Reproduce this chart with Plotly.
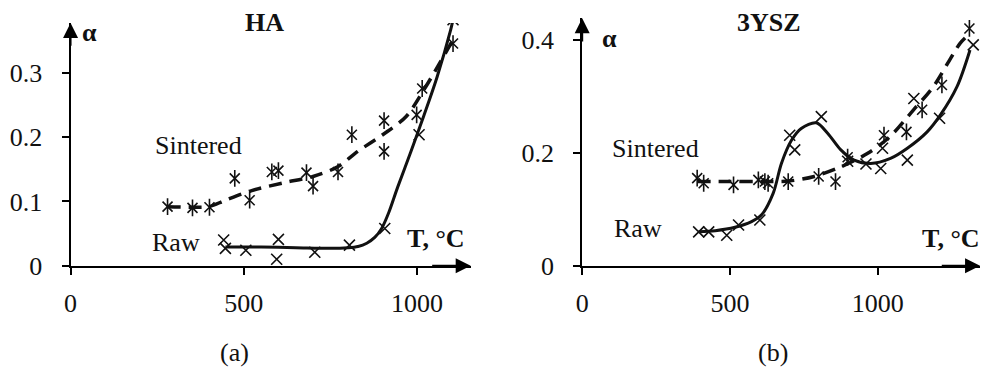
import plotly.graph_objects as go

# ---------------- data ----------------
# Panel (a) HA
ha_raw_T = [442, 447, 506, 595, 600, 705, 805, 907, 1006, 1104]
ha_raw_a = [0.040, 0.027, 0.024, 0.010, 0.041, 0.021, 0.032, 0.058, 0.204, 0.383]
ha_sint_T = [280, 352, 401, 474, 517, 581, 600, 681, 700, 772, 812, 905, 905, 999, 1015, 1104]
ha_sint_a = [0.092, 0.090, 0.091, 0.136, 0.102, 0.146, 0.148, 0.145, 0.124, 0.146, 0.204, 0.226, 0.178, 0.235, 0.276, 0.346]
ha_raw_fit_T = [447, 550, 650, 750, 800, 830, 855, 878, 898, 918, 944, 982, 1020, 1058, 1097, 1104]
ha_raw_fit_a = [0.029, 0.029, 0.028, 0.027, 0.028, 0.030, 0.035, 0.044, 0.058, 0.082, 0.122, 0.177, 0.234, 0.294, 0.367, 0.383]
ha_sint_fit_T = [280, 350, 400, 447, 523, 614, 700, 771, 829, 901, 968, 1020, 1068, 1104]
ha_sint_fit_a = [0.092, 0.091, 0.092, 0.102, 0.117, 0.129, 0.139, 0.154, 0.178, 0.204, 0.232, 0.274, 0.318, 0.352]

# Panel (b) 3YSZ
ysz_raw_T = [394, 428, 489, 529, 601, 702, 719, 809, 898, 960, 1010, 1016, 1100, 1122, 1209, 1323]
ysz_raw_a = [0.060, 0.060, 0.054, 0.072, 0.081, 0.231, 0.205, 0.264, 0.185, 0.180, 0.172, 0.208, 0.187, 0.296, 0.261, 0.391]
ysz_sint_T = [389, 411, 512, 596, 618, 629, 697, 800, 857, 898, 1021, 1097, 1150, 1217, 1310]
ysz_sint_a = [0.155, 0.146, 0.143, 0.152, 0.149, 0.146, 0.149, 0.158, 0.149, 0.192, 0.231, 0.237, 0.276, 0.320, 0.420]
ysz_raw_fit_T = [394, 450, 517, 573, 607, 646, 674, 708, 741, 792, 831, 875, 920, 976, 1043, 1100, 1167, 1212, 1268, 1312]
ysz_raw_fit_a = [0.060, 0.062, 0.068, 0.078, 0.090, 0.128, 0.181, 0.222, 0.243, 0.253, 0.234, 0.205, 0.187, 0.181, 0.190, 0.208, 0.237, 0.267, 0.317, 0.382]
ysz_sint_fit_T = [390, 500, 600, 700, 785, 875, 966, 1040, 1121, 1188, 1279, 1310]
ysz_sint_fit_a = [0.149, 0.149, 0.149, 0.150, 0.158, 0.175, 0.199, 0.228, 0.276, 0.317, 0.394, 0.410]

# axis ticks
ha_yticks = [0, 0.1, 0.2, 0.3]
ha_yticktext = ["0", "0.1", "0.2", "0.3"]
ysz_yticks = [0, 0.2, 0.4]
ysz_yticktext = ["0", "0.2", "0.4"]
xticks = [0, 500, 1000]
xticktext = ["0", "500", "1000"]

# ---------------- figure ----------------
W, H = 988, 370          # target picture size
HF = 385                 # figure height (page is shown squeezed to H)
FONT = "Liberation Serif, Times New Roman, serif"
INK = "#111111"

fig = go.Figure()

def add_panel(xa, ya, raw_T, raw_a, sint_T, sint_a, rfT, rfa, sfT, sfa):
    fig.add_trace(go.Scatter(x=sfT, y=sfa, mode="lines", xaxis=xa, yaxis=ya,
                             line=dict(color=INK, width=3.5, dash="13px,8px", shape="spline", smoothing=0.9),
                             hoverinfo="skip"))
    fig.add_trace(go.Scatter(x=rfT, y=rfa, mode="lines", xaxis=xa, yaxis=ya,
                             line=dict(color=INK, width=3, shape="spline", smoothing=0.9),
                             hoverinfo="skip"))
    fig.add_trace(go.Scatter(x=raw_T, y=raw_a, mode="markers", xaxis=xa, yaxis=ya,
                             marker=dict(symbol="x-thin-open", size=11, color=INK,
                                         line=dict(width=1.6, color=INK))))
    fig.add_trace(go.Scatter(x=sint_T, y=sint_a, mode="markers", xaxis=xa, yaxis=ya,
                             marker=dict(symbol="x-thin-open", size=10, color=INK,
                                         line=dict(width=1.6, color=INK))))
    fig.add_trace(go.Scatter(x=sint_T, y=sint_a, mode="markers", xaxis=xa, yaxis=ya,
                             marker=dict(symbol="line-ns-open", size=12, color=INK,
                                         line=dict(width=1.6, color=INK))))

add_panel("x", "y", ha_raw_T, ha_raw_a, ha_sint_T, ha_sint_a,
          ha_raw_fit_T, ha_raw_fit_a, ha_sint_fit_T, ha_sint_fit_a)
add_panel("x2", "y2", ysz_raw_T, ysz_raw_a, ysz_sint_T, ysz_sint_a,
          ysz_raw_fit_T, ysz_raw_fit_a, ysz_sint_fit_T, ysz_sint_fit_a)

tickfont = dict(family=FONT, size=26, color=INK)

def xaxis_cfg(domain, rmax):
    return dict(domain=domain, range=[0, rmax], showgrid=False, zeroline=False,
                showline=True, linecolor="black", linewidth=2,
                ticks="outside", ticklen=7, tickwidth=2, tickcolor="black",
                tickvals=xticks, ticktext=xticktext, tickfont=tickfont,
                ticklabelstandoff=6, fixedrange=True)

def yaxis_cfg(domain, rmax, anchor, tv, tt):
    return dict(domain=domain, range=[0, rmax], showgrid=False, zeroline=False,
                showline=True, linecolor="black", linewidth=2, anchor=anchor,
                ticks="outside", ticklen=7, tickwidth=2, tickcolor="black",
                tickvals=tv, ticktext=tt, tickfont=tickfont,
                ticklabelstandoff=14, fixedrange=True)

def fy(py):
    # pixel row in target picture -> paper fraction
    return 1 - py / H

xl0, xl1 = 64 / W, 467 / W
xr0, xr1 = 579.3 / W, 980 / W
yb = fy(265.7)
yl_top = fy(23)
yr_top = fy(18.3)
HA_XMAX, HA_YMAX = 1155, 0.378
YSZ_XMAX, YSZ_YMAX = 1346, 0.438

fig.update_layout(
    width=W, height=HF, autosize=False,
    margin=dict(l=0, r=0, t=0, b=0, pad=0),
    paper_bgcolor="white", plot_bgcolor="white",
    showlegend=False,
    xaxis=dict(xaxis_cfg([xl0, xl1], HA_XMAX), anchor="y"),
    yaxis=yaxis_cfg([yb, yl_top], HA_YMAX, "x", ha_yticks, ha_yticktext),
    xaxis2=dict(xaxis_cfg([xr0, xr1], YSZ_XMAX), anchor="y2"),
    yaxis2=yaxis_cfg([yb, yr_top], YSZ_YMAX, "x2", ysz_yticks, ysz_yticktext),
)

annotations = []

# axis arrows
for xr, yr, xmax, ymax in [("x", "y", HA_XMAX, HA_YMAX), ("x2", "y2", YSZ_XMAX, YSZ_YMAX)]:
    annotations.append(dict(x=xmax, y=0, ax=xmax * 0.9, ay=0, xref=xr, yref=yr, axref=xr, ayref=yr,
                            showarrow=True, arrowhead=2, arrowsize=1.5, arrowwidth=2,
                            arrowcolor="black", text="", standoff=0))
    annotations.append(dict(x=0, y=ymax, ax=0, ay=ymax * 0.9, xref=xr, yref=yr, axref=xr, ayref=yr,
                            showarrow=True, arrowhead=2, arrowsize=1.5, arrowwidth=2,
                            arrowcolor="black", text="", standoff=0))

def txt(s, px, py, bold=False, size=26, anchor="center"):
    annotations.append(dict(text=f"<b>{s}</b>" if bold else s, x=px / W, y=fy(py),
                            xref="paper", yref="paper", showarrow=False,
                            xanchor=anchor, yanchor="middle",
                            font=dict(family=FONT, size=size, color=INK)))

txt("HA", 259, 22, bold=True)
txt("3YSZ", 767, 22, bold=True)
txt("α", 83, 33, bold=True)
txt("α", 607, 38, bold=True)
txt("Sintered", 193, 145)
txt("Raw", 170.5, 243)
txt("Sintered", 653, 148.5)
txt("Raw", 636, 228.5)
txt("T, °C", 463, 238, bold=True, anchor="right")
txt("T, °C", 982, 238, bold=True, anchor="right")
txt("(a)", 229, 352)
txt("(b)", 771, 352)

fig.update_layout(annotations=annotations)

fig.write_html(
    "out.html",
    config={"displayModeBar": False, "responsive": False, "staticPlot": True},
    post_script=(
        "document.documentElement.style.margin='0px';"
        "document.documentElement.style.overflow='hidden';"
        "document.body.style.margin='0px';"
        "document.body.style.overflow='hidden';"
    ),
)
